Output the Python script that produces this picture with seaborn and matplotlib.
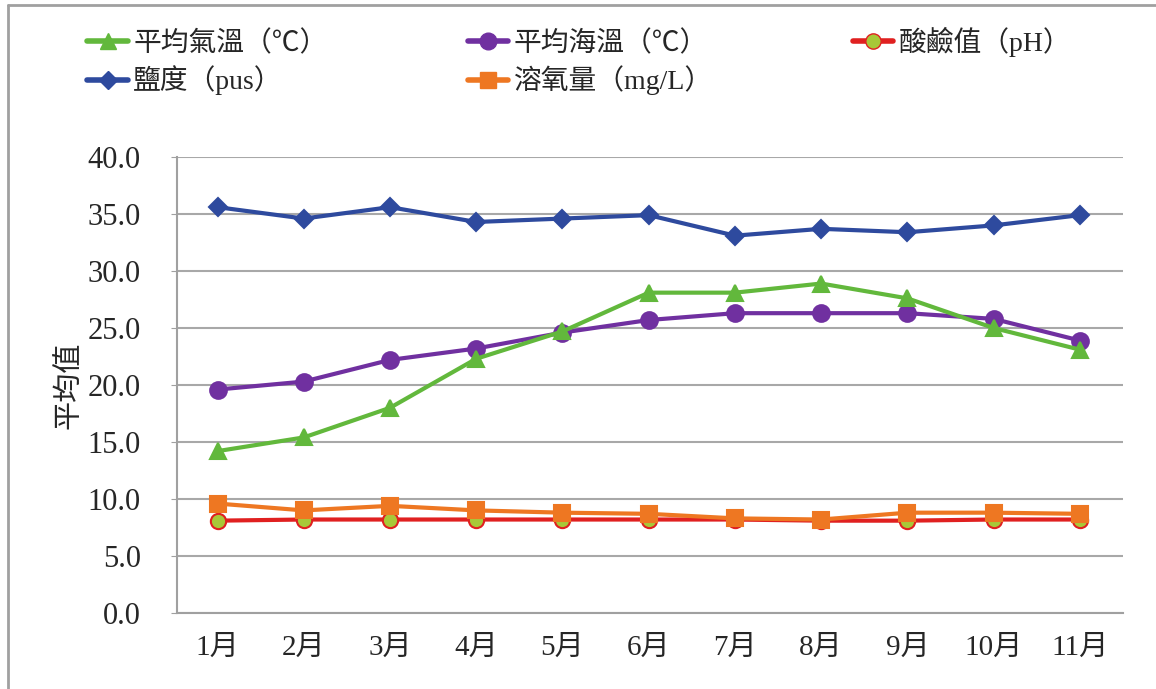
import pandas as pd
import matplotlib.pyplot as plt
import seaborn as sns
from matplotlib.lines import Line2D

# Data
months = ["1月", "2月", "3月", "4月", "5月", "6月", "7月", "8月", "9月", "10月", "11月"]
air_temp = [14.2, 15.4, 18.0, 22.3, 24.7, 28.1, 28.1, 28.9, 27.6, 25.0, 23.1]
sea_temp = [19.6, 20.3, 22.2, 23.2, 24.6, 25.7, 26.3, 26.3, 26.3, 25.8, 23.9]
ph = [8.1, 8.2, 8.2, 8.2, 8.2, 8.2, 8.2, 8.1, 8.1, 8.2, 8.2]
salinity = [35.6, 34.6, 35.6, 34.3, 34.6, 34.9, 33.1, 33.7, 33.4, 34.0, 34.9]
dissolved_o2 = [9.6, 9.0, 9.4, 9.0, 8.8, 8.7, 8.3, 8.2, 8.8, 8.8, 8.7]

sns.set_style("white")
plt.rcParams['font.family'] = ['Liberation Serif', 'Noto Sans CJK TC', 'DejaVu Sans']

fig = plt.figure(figsize=(11.56, 6.89), dpi=100)
ax = fig.add_axes([177/1156, 1 - 613/689, (1123 - 177)/1156, (613 - 157)/689])

# (label, values, color, marker, markersize, face)
series = [
    ("平均氣溫（℃）", air_temp, "#62B83C", "^", 11, "#62B83C"),
    ("鹽度（pus）", salinity, "#2E4A9E", "D", 9, "#2E4A9E"),
    ("平均海溫（℃）", sea_temp, "#7030A0", "o", 12, "#7030A0"),
    ("溶氧量（mg/L）", dissolved_o2, "#EE7722", "s", 11, "#EE7722"),
    ("酸鹼值（pH）", ph, "#E02020", "o", 11, "#A8C838"),
]
# draw order: pH under the orange squares
draw_order = [4, 3, 2, 0, 1]

for i in draw_order:
    label, vals, color, marker, ms, face = series[i]
    df = pd.DataFrame({"month": months, "value": vals})
    sns.lineplot(data=df, x="month", y="value", ax=ax, sort=False,
                 color=color, linewidth=3.0, marker=marker, markersize=ms,
                 markerfacecolor=face, markeredgecolor=color, markeredgewidth=1.5,
                 label=label, legend=False)

ax.set_xlim(-0.47, len(months) - 0.5)
ax.set_ylim(0, 40)
ax.set_yticks(range(0, 41, 5))
ax.set_yticklabels([f"{v:.1f}" for v in range(0, 41, 5)])
ax.yaxis.grid(True, color="#A8A8A8", linewidth=1.5)
ax.xaxis.grid(False)
for s in ["top", "right"]:
    ax.spines[s].set_visible(False)
for s in ["left", "bottom"]:
    ax.spines[s].set_color("#A0A0A0")
    ax.spines[s].set_linewidth(1.5)
ax.tick_params(axis="y", labelsize=22, length=4, color="#A0A0A0", left=True, pad=22)
ax.tick_params(axis="x", labelsize=21, length=0, pad=16)
ax.set_xlabel("")
ax.set_ylabel("平均值", fontsize=21, labelpad=4)

# legend, ordered so rows read like the original
handles = []
for label, vals, color, marker, ms, face in series:
    handles.append(Line2D([], [], color=color, linewidth=4, marker=marker, markersize=ms,
                          markerfacecolor=face, markeredgecolor=color, label=label))
fig.legend(handles=handles, loc="upper left", bbox_to_anchor=(0.054, 0.997), ncol=3,
           frameon=False, fontsize=20, handlelength=1.45, handletextpad=0.2,
           columnspacing=5.05, labelspacing=0.3)

# figure frame on the left and top
fig.add_artist(Line2D([8/1156, 8/1156], [0, 1 - 5/689], color="#A0A0A0", linewidth=2))
fig.add_artist(Line2D([8/1156, 1], [1 - 5/689, 1 - 5/689], color="#A0A0A0", linewidth=2))

fig.savefig("out.png", dpi=100)
